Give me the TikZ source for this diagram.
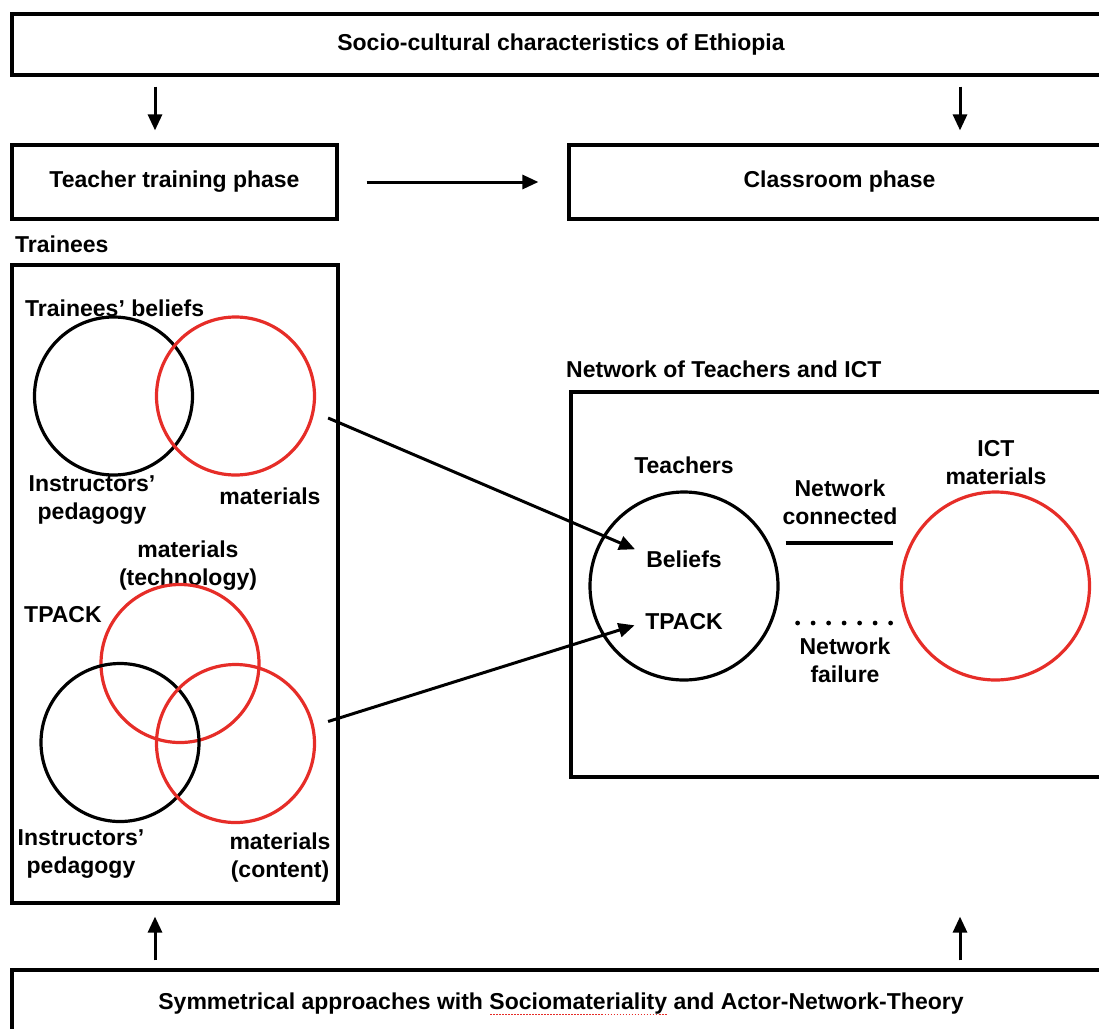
\documentclass[tikz,border=0pt]{standalone}
\usepackage{fontspec}
\setmainfont{Liberation Sans}
\usepackage{xcolor}
\usepackage{tikz}
\usetikzlibrary{arrows.meta,positioning,calc}
\definecolor{vennred}{RGB}{230,45,40}
\tikzset{
  phase/.style={
    rectangle, draw=black, line width=3.2pt, inner sep=0pt,
    font=\fontsize{23}{28}\selectfont\bfseries, align=center
  },
  panel/.style={rectangle, draw=black, line width=3.2pt, inner sep=0pt},
  lbl/.style={font=\fontsize{23}{28}\selectfont\bfseries, align=center, inner sep=0pt},
  actor/.style={circle, draw=black, line width=3.2pt, inner sep=0pt, minimum size=158pt},
  matter/.style={actor, draw=vennred},
  bigactor/.style={actor, minimum size=188pt},
  flow/.style={-{Triangle[length=16pt,width=14pt]}, line width=3pt},
  connected/.style={line width=3.4pt},
  failure/.style={line width=4.8pt, line cap=round, dash pattern=on 0pt off 15.5pt},
}
% red dotted spell-check mark under a word
\newcommand\spellmark[1]{\setbox0=\hbox{#1}\rlap{\raisebox{-6pt}{\color{vennred}\hbox to \wd0{\xleaders\hbox to 3pt{\hss\rule{1.8pt}{1.6pt}\hss}\hfill}}}\box0\relax}

\begin{document}
\begin{tikzpicture}[x=1pt, y=-1pt]
  \useasboundingbox (0,0) rectangle (1099,1028);

  % Phases
  \node[phase, minimum width=1098pt, minimum height=61pt] (top) at (561,44.5)
    {Socio-cultural characteristics of Ethiopia};
  \node[phase, minimum width=325pt, minimum height=74pt] (train) at (174.5,182)
    {Teacher training phase};
  \node[phase, minimum width=541pt, minimum height=74pt] (class) at (839.5,182)
    {Classroom phase};
  \node[phase, minimum width=1098pt, minimum height=68pt] (base) at (561,1004)
    {Symmetrical approaches with \spellmark{Sociomateriality} and Actor-Network-Theory};

  \coordinate (lx) at (155,0);
  \coordinate (rx) at (960,0);

  \draw[flow, shorten <=10pt, shorten >=13pt] (top.south -| lx) -- (train.north -| lx);
  \draw[flow, shorten <=10pt, shorten >=13pt] (top.south -| rx) -- (class.north -| rx);
  \draw[flow, shorten <=28pt, shorten >=29pt] (train) -- (class);

  % Trainees
  \node[panel, minimum width=326pt, minimum height=638pt] (trainbox) at (175,584) {};
  \node[lbl, anchor=west] (trainees) at (15,244) {Trainees};
  \node[lbl, anchor=west] (belieflbl) at (25,308) {Trainees’ beliefs};

  \node[actor]  (ped1) at (113.5,396) {};
  \node[matter] (mat1) at (235.5,396) {};
  \node[lbl] at (92,500)  {Instructors’\\pedagogy};
  \node[lbl] at (270,496) {materials};

  \node[lbl] at (188,566) {materials\\(technology)};
  \node[lbl, anchor=west] at (24,615) {TPACK};
  \node[matter] (tech) at (180,663.5) {};
  \node[actor]  (ped2) at (120,742.5) {};
  \node[matter] (cont) at (235.5,743.5) {};
  \node[lbl] at (81,854)  {Instructors’\\pedagogy};
  \node[lbl] at (280,858) {materials\\(content)};

  \draw[flow, shorten <=8pt, shorten >=12pt] (base.north -| lx) -- (trainbox.south -| lx);
  \draw[flow, shorten <=8pt, shorten >=12pt] (base.north -| rx) -- (trainbox.south -| rx);

  % Network of teachers and ICT
  \node[panel, minimum width=539pt, minimum height=385pt] (netbox) at (840.5,584.5) {};
  \node[lbl, anchor=west] at (566,369) {Network of Teachers and ICT};

  \node[bigactor] (teach) at (684,586) {};
  \node[bigactor, draw=vennred] (ict) at (995.5,586) {};
  \node[lbl] at (684,465) {Teachers};
  \node[lbl] (beliefs) at (684,559) {Beliefs};
  \node[lbl] (tpack) at (684,622) {TPACK};
  \node[lbl] at (996,463) {ICT\\materials};

  \draw[connected] ([xshift=6pt,yshift=43pt]teach.east) -- ([xshift=-7pt,yshift=43pt]ict.west);
  \draw[failure] ([xshift=18pt,yshift=-37pt]teach.east) -- ([xshift=-9pt,yshift=-37pt]ict.west);
  \node[lbl] at (840,502) {Network\\connected};
  \node[lbl] at (845,660) {Network\\failure};

  % Trainee networks feed into teachers
  \coordinate (src1) at ($(mat1.east)+(12,22)$);
  \coordinate (src2) at ($(cont.east)+(12,-22)$);
  \draw[flow, shorten >=12pt] (src1) -- ([yshift=5pt]beliefs.west);
  \draw[flow, shorten >=11pt] (src2) -- (tpack.west);

\end{tikzpicture}
\end{document}
